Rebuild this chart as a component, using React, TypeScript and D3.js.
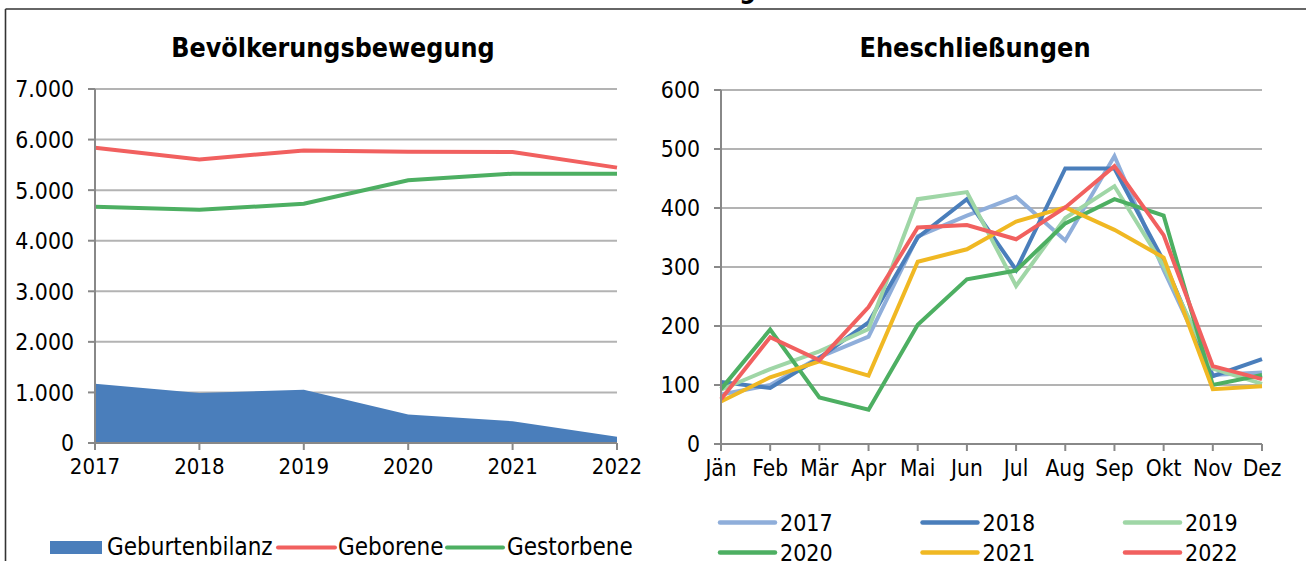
import React from "react";
import * as d3 from "d3";

const years = ["2017", "2018", "2019", "2020", "2021", "2022"];
const geborene = [5840, 5605, 5785, 5760, 5755, 5445];
const gestorbene = [4670, 4612, 4730, 5195, 5325, 5325];
const geburtenbilanz = [1170, 990, 1055, 565, 430, 122];
const leftTicks = [0, 1000, 2000, 3000, 4000, 5000, 6000, 7000];

const months = ["Jän", "Feb", "Mär", "Apr", "Mai", "Jun", "Jul", "Aug", "Sep", "Okt", "Nov", "Dez"];
const m2017 = [84, 100, 147, 182, 352, 387, 419, 345, 488, 295, 117, 121];
const m2018 = [105, 95, 146, 206, 350, 415, 295, 467, 467, 310, 115, 144];
const m2019 = [92, 127, 157, 195, 415, 427, 268, 383, 437, 302, 128, 102];
const m2020 = [93, 194, 79, 58, 202, 279, 294, 374, 415, 387, 100, 117];
const m2021 = [72, 113, 140, 116, 309, 330, 377, 401, 363, 316, 93, 98];
const m2022 = [76, 181, 142, 232, 367, 371, 347, 401, 471, 354, 132, 110];
const rightTicks = [0, 100, 200, 300, 400, 500, 600];

const monthSeries = [
  { name: "2017", values: m2017, color: "#8FAEDA" },
  { name: "2018", values: m2018, color: "#4A7EBB" },
  { name: "2019", values: m2019, color: "#9FD6A6" },
  { name: "2020", values: m2020, color: "#4DAF62" },
  { name: "2021", values: m2021, color: "#F0B823" },
  { name: "2022", values: m2022, color: "#F1605F" },
];

const FONT = "'DejaVu Sans Condensed', 'DejaVu Sans', sans-serif";
const GRID = "#B3B3B3";
const AXIS = "#888888";

export default function App() {
  const xL = d3.scalePoint<string>().domain(years).range([95, 617]);
  const yL = d3.scaleLinear().domain([0, 7000]).range([443, 89]);
  const fmt = (v: number) => d3.format(",")(v).replace(/,/g, ".");

  const area = d3
    .area<number>()
    .x((_, i) => xL(years[i]) as number)
    .y0(yL(0))
    .y1((d) => yL(d));
  const lineL = d3
    .line<number>()
    .x((_, i) => xL(years[i]) as number)
    .y((d) => yL(d));

  const xR = d3.scalePoint<string>().domain(months).range([721, 1262]);
  const yR = d3.scaleLinear().domain([0, 600]).range([444, 90]);
  const lineR = d3
    .line<number>()
    .x((_, i) => xR(months[i]) as number)
    .y((d) => yR(d));

  return (
    <svg width={1306} height={561} style={{ position: "absolute", left: 0, top: 0, background: "#fff" }} fontFamily={FONT}>
      <rect x={0} y={0} width={1306} height={561} fill="#fff" />
      <line x1={5.5} y1={9} x2={1306} y2={9} stroke="#333" strokeWidth={1.6} />
      <line x1={5.5} y1={9} x2={5.5} y2={561} stroke="#333" strokeWidth={1.6} />
      <text x={756} y={-2} textAnchor="end" fontSize={26} fontWeight="bold" fill="#000">Bevölkerung</text>

      {/* LEFT CHART */}
      <text x={333} y={57} textAnchor="middle" fontSize={26.6} fontWeight="bold">Bevölkerungsbewegung</text>
      {leftTicks.map((t) => (
        <g key={"lt" + t}>
          {t > 0 && <line x1={95} x2={617} y1={yL(t)} y2={yL(t)} stroke={GRID} strokeWidth={2} />}
          <line x1={88} x2={95} y1={yL(t)} y2={yL(t)} stroke={AXIS} strokeWidth={2} />
          <text x={74} y={yL(t)} dy="0.37em" textAnchor="end" fontSize={22.8}>{fmt(t)}</text>
        </g>
      ))}
      <path d={area(geburtenbilanz) as string} fill="#4A7EBB" />
      <path d={lineL(geborene) as string} fill="none" stroke="#F1605F" strokeWidth={4} />
      <path d={lineL(gestorbene) as string} fill="none" stroke="#4DAF62" strokeWidth={4} />
      <line x1={95} x2={95} y1={89} y2={443} stroke={AXIS} strokeWidth={2} />
      <line x1={95} x2={617} y1={443} y2={443} stroke={AXIS} strokeWidth={2} />
      {years.map((y) => (
        <g key={"yx" + y}>
          <line x1={xL(y)} x2={xL(y)} y1={443} y2={450} stroke={AXIS} strokeWidth={2} />
          <text x={xL(y)} y={474} textAnchor="middle" fontSize={22}>{y}</text>
        </g>
      ))}
      <rect x={50} y={541} width={52} height={13} fill="#4A7EBB" />
      <text x={107} y={555} fontSize={24}>Geburtenbilanz</text>
      <line x1={278} x2={335} y1={547.5} y2={547.5} stroke="#F1605F" strokeWidth={4} strokeLinecap="round" />
      <text x={338} y={555} fontSize={24}>Geborene</text>
      <line x1={447} x2={503} y1={547.5} y2={547.5} stroke="#4DAF62" strokeWidth={4} strokeLinecap="round" />
      <text x={507} y={555} fontSize={24}>Gestorbene</text>

      {/* RIGHT CHART */}
      <text x={975} y={57} textAnchor="middle" fontSize={26.8} fontWeight="bold">Eheschließungen</text>
      {rightTicks.map((t) => (
        <g key={"rt" + t}>
          {t > 0 && <line x1={721} x2={1262} y1={yR(t)} y2={yR(t)} stroke={GRID} strokeWidth={2} />}
          <line x1={714} x2={721} y1={yR(t)} y2={yR(t)} stroke={AXIS} strokeWidth={2} />
          <text x={700} y={yR(t)} dy="0.37em" textAnchor="end" fontSize={22.8}>{t}</text>
        </g>
      ))}
      {monthSeries.map((s) => (
        <path key={"ms" + s.name} d={lineR(s.values) as string} fill="none" stroke={s.color} strokeWidth={4} strokeLinejoin="miter" />
      ))}
      <line x1={721} x2={721} y1={90} y2={444} stroke={AXIS} strokeWidth={2} />
      <line x1={721} x2={1262} y1={444} y2={444} stroke={AXIS} strokeWidth={2} />
      {months.map((m) => (
        <g key={"mx" + m}>
          <line x1={xR(m)} x2={xR(m)} y1={444} y2={451} stroke={AXIS} strokeWidth={2} />
          <text x={xR(m)} y={476} textAnchor="middle" fontSize={22.5}>{m}</text>
        </g>
      ))}
      {monthSeries.map((s, i) => {
        const col = i % 3;
        const row = Math.floor(i / 3);
        const x0 = 720 + col * 202.5;
        const yl = 522.5 + row * 30;
        return (
          <g key={"lg" + s.name}>
            <line x1={x0} x2={x0 + 55} y1={yl} y2={yl} stroke={s.color} strokeWidth={4.5} strokeLinecap="round" />
            <text x={x0 + 60} y={yl + 8.8} fontSize={23}>{s.name}</text>
          </g>
        );
      })}
    </svg>
  );
}
